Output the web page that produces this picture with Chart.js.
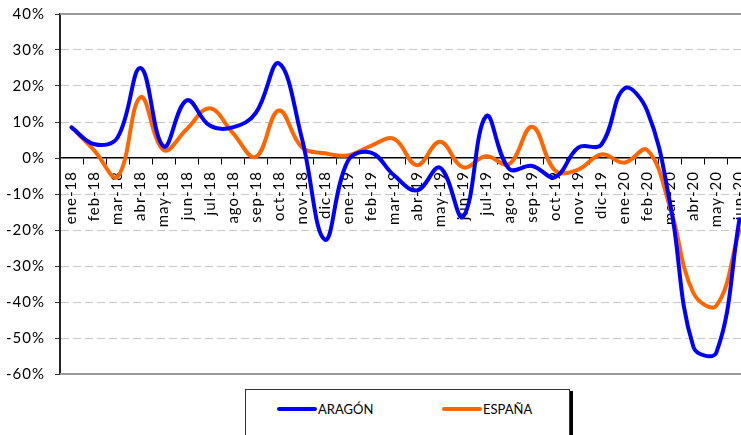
<!DOCTYPE html>
<html>
<head>
<meta charset="utf-8">
<script src="https://cdn.jsdelivr.net/npm/chart.js@4"></script>
<style>
  html, body { margin: 0; padding: 0; background: #fff; overflow: hidden; }
  #wrap { position: relative; width: 741px; height: 435px; overflow: hidden; }
  #myChart { position: absolute; left: 0; top: 0; }
  #legend {
    position: absolute; left: 245px; top: 389px; width: 323px; height: 60px;
    border: 1px solid #333; box-shadow: 3px 2px 0 #000; background: #fff;
    font-family: Lato, sans-serif; font-size: 13px; color: #000;
  }
  .item { position: absolute; top: 11px; display: flex; align-items: center; height: 16px; }
  .swatch { width: 40px; height: 4px; border-radius: 2px; margin-right: 1px; }
</style>
</head>
<body>
<div id="wrap">
  <canvas id="myChart" width="752" height="385"></canvas>
  <div id="legend"></div>
</div>
<script>
const categories = [
  "ene-18", "feb-18", "mar-18", "abr-18", "may-18", "jun-18", "jul-18", "ago-18", "sep-18", "oct-18", "nov-18", "dic-18",
  "ene-19", "feb-19", "mar-19", "abr-19", "may-19", "jun-19", "jul-19", "ago-19", "sep-19", "oct-19", "nov-19", "dic-19",
  "ene-20", "feb-20", "mar-20", "abr-20", "may-20", "jun-20",
];

// variación interanual (%)
const aragon = [
  8.5, 3.8, 5.7, 25, 3.2, 16, 9, 8.5, 12.5, 26.3, 5.5, -22.7,
  -0.8, 1.5, -4.8, -9, -2.7, -16.3, 11.6, -3, -2.2, -5.3, 2.9, 3.7,
  19.3, 13, -13, -52.5, -54, -17,
];
const espana = [
  8.5, 2, -5.2, 16.9, 2.2, 8, 13.8, 7, 0.3, 13.2, 3, 1.3,
  0.7, 3.4, 5.3, -2, 4.5, -2.6, 0.5, -1.7, 8.7, -3.5, -3.2, 1,
  -1.3, 2.2, -14, -37.5, -41, -20,
];

const seriesNames = ["ARAGÓN", "ESPAÑA"];
const seriesColors = ["#0000ff", "#ff6600"];

const yMin = -60;
const yMax = 40;
const yStep = 10;

// wider letters like the original, and solid lines on top/bottom of the plot
const frameLines = {
  id: "frameLines",
  beforeUpdate(chart) { chart.ctx.letterSpacing = "1px"; },
  beforeDraw(chart) { chart.ctx.letterSpacing = "1px"; },
  beforeDatasetsDraw(chart) {
    const { ctx, chartArea } = chart;
    ctx.save();
    ctx.strokeStyle = "#9a9a9a";
    ctx.lineWidth = 2;
    ctx.beginPath();
    ctx.moveTo(chartArea.left, chartArea.top);
    ctx.lineTo(chartArea.right, chartArea.top);
    ctx.moveTo(chartArea.left, chartArea.bottom);
    ctx.lineTo(chartArea.right, chartArea.bottom);
    ctx.stroke();
    ctx.restore();
  },
};

function noPadding(scale) {
  scale.paddingLeft = 0;
  scale.paddingRight = 0;
  scale.paddingTop = 0;
  scale.paddingBottom = 0;
}

const ctx = document.getElementById("myChart").getContext("2d");
const myChart = new Chart(ctx, {
  type: "line",
  data: {
    labels: categories,
    datasets: [
      { label: seriesNames[0], data: aragon, borderColor: seriesColors[0] },
      { label: seriesNames[1], data: espana, borderColor: seriesColors[1] },
    ],
  },
  options: {
    responsive: false,
    animation: false,
    events: [],
    layout: { padding: { left: 0, top: 14, right: 1, bottom: 11 } },
    elements: {
      line: { borderWidth: 4, tension: 0.4, borderCapStyle: "round", borderJoinStyle: "round", fill: false },
      point: { radius: 0 },
    },
    plugins: {
      legend: { display: false },
      tooltip: { enabled: false },
    },
    scales: {
      x: {
        type: "category",
        position: { y: 0 },
        offset: true,
        grid: { offset: true, drawOnChartArea: false, drawTicks: true, tickLength: 6, tickColor: "#000", color: "#000" },
        border: { color: "#000", width: 1.5 },
        ticks: {
          autoSkip: false, minRotation: 90, maxRotation: 90, padding: 7,
          color: "#000", font: { family: "Lato", size: 15 },
        },
        afterFit(scale) { scale.height = 0; noPadding(scale); },
      },
      y: {
        min: yMin,
        max: yMax,
        grid: {
          color: (c) => (c.tick && (c.tick.value === yMax || c.tick.value === yMin || c.tick.value === 0)) ? "rgba(0,0,0,0)" : "#c8c8c8",
          lineWidth: 1,
          tickLength: 5,
          tickColor: "#333",
        },
        border: { color: "#222", width: 2, dash: [8, 4] },
        ticks: {
          stepSize: yStep,
          padding: 10,
          color: "#000",
          font: { family: "Lato", size: 15 },
          callback: (v) => v + "%",
        },
        afterFit(scale) { scale.width = 60; noPadding(scale); },
      },
    },
  },
  plugins: [frameLines],
});

// legend box under the chart
const legend = document.getElementById("legend");
const itemLeft = [31, 196];
myChart.data.datasets.forEach((ds, i) => {
  const item = document.createElement("div");
  item.className = "item";
  item.style.left = itemLeft[i] + "px";
  const sw = document.createElement("span");
  sw.className = "swatch";
  sw.style.background = ds.borderColor;
  const txt = document.createElement("span");
  txt.textContent = ds.label;
  item.appendChild(sw);
  item.appendChild(txt);
  legend.appendChild(item);
});
</script>
</body>
</html>
